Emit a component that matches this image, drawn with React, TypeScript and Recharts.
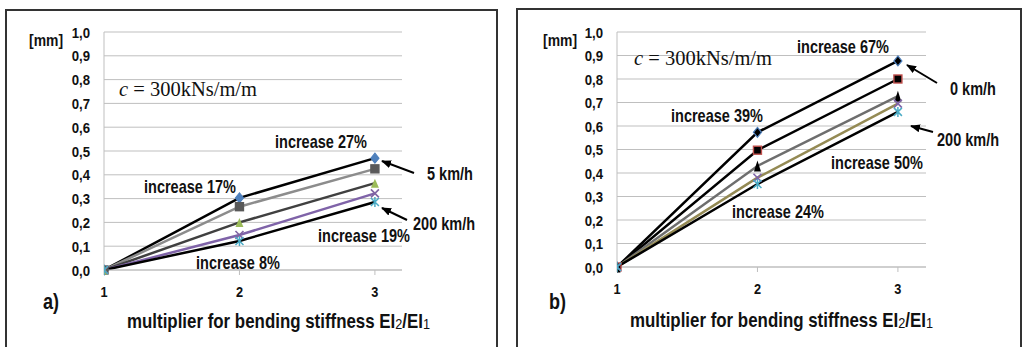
import React from "react";
import { LineChart, Line, XAxis, YAxis, CartesianGrid } from "recharts";

// ---------- data ----------
const multipliers = [1, 2, 3];
const xTicks = [1, 2, 3];
const yTicks = [0, 0.1, 0.2, 0.3, 0.4, 0.5, 0.6, 0.7, 0.8, 0.9, 1.0];

// panel a) (speeds 5 km/h ... 200 km/h)
const aSpeed5 = [0, 0.303, 0.47];
const aSeries2 = [0, 0.266, 0.425];
const aSeries3 = [0, 0.2, 0.365];
const aSeries4 = [0, 0.147, 0.322];
const aSpeed200 = [0, 0.122, 0.286];

// panel b) (speeds 0 km/h ... 200 km/h)
const bSpeed0 = [0, 0.573, 0.877];
const bSeries2 = [0, 0.497, 0.8];
const bSeries3 = [0, 0.43, 0.727];
const bSeries4 = [0, 0.38, 0.695];
const bSpeed200 = [0, 0.353, 0.66];

const FONT = "'Liberation Sans', Arial, sans-serif";
const NARROW = 0.82;
const SERIF = "'Liberation Serif', 'Times New Roman', serif";
const GRID = "#BFBFBF";

type Marker = (p: any) => React.ReactElement;

const diamond = (fill: string, stroke: string): Marker => (p: any) => (
  <path
    key={`d${p.index}`}
    d={`M${p.cx},${p.cy - 5} L${p.cx + 4},${p.cy} L${p.cx},${p.cy + 5} L${p.cx - 4},${p.cy} Z`}
    fill={fill}
    stroke={stroke}
    strokeWidth={1.2}
  />
);
const square = (fill: string, stroke: string): Marker => (p: any) => (
  <rect key={`s${p.index}`} x={p.cx - 4} y={p.cy - 4} width={8} height={8} fill={fill} stroke={stroke} strokeWidth={1.4} />
);
const triangle = (fill: string, w: number, h: number): Marker => (p: any) => (
  <path
    key={`t${p.index}`}
    d={`M${p.cx},${p.cy - h / 2} L${p.cx + w / 2},${p.cy + h / 2} L${p.cx - w / 2},${p.cy + h / 2} Z`}
    fill={fill}
  />
);
const cross = (stroke: string): Marker => (p: any) => (
  <path
    key={`x${p.index}`}
    d={`M${p.cx - 4},${p.cy - 4} L${p.cx + 4},${p.cy + 4} M${p.cx - 4},${p.cy + 4} L${p.cx + 4},${p.cy - 4}`}
    stroke={stroke}
    strokeWidth={1.6}
    fill="none"
  />
);
const star = (stroke: string): Marker => (p: any) => (
  <path
    key={`a${p.index}`}
    d={`M${p.cx - 4},${p.cy - 4} L${p.cx + 4},${p.cy + 4} M${p.cx - 4},${p.cy + 4} L${p.cx + 4},${p.cy - 4} M${p.cx},${p.cy - 5} L${p.cx},${p.cy + 5}`}
    stroke={stroke}
    strokeWidth={1.5}
    fill="none"
  />
);

type SeriesCfg = { name: string; values: number[]; color: string; width: number; dot: Marker };

const seriesA: SeriesCfg[] = [
  { name: "5 km/h", values: aSpeed5, color: "#000000", width: 2.5, dot: diamond("#4F81BD", "#4F81BD") },
  { name: "series 2", values: aSeries2, color: "#8C8C8C", width: 2.5, dot: square("#595959", "#595959") },
  { name: "series 3", values: aSeries3, color: "#404040", width: 2.5, dot: triangle("#9BBB59", 8, 9) },
  { name: "series 4", values: aSeries4, color: "#7F63A8", width: 2.5, dot: cross("#8064A2") },
  { name: "200 km/h", values: aSpeed200, color: "#000000", width: 2.5, dot: star("#4BACC6") },
];

const seriesB: SeriesCfg[] = [
  { name: "0 km/h", values: bSpeed0, color: "#000000", width: 2.5, dot: diamond("#000000", "#4F81BD") },
  { name: "series 2", values: bSeries2, color: "#000000", width: 2.5, dot: square("#000000", "#C0504D") },
  { name: "series 3", values: bSeries3, color: "#6E6E6E", width: 2.5, dot: triangle("#000000", 7, 11) },
  { name: "series 4", values: bSeries4, color: "#948A54", width: 2.5, dot: cross("#7F63A8") },
  { name: "200 km/h", values: bSpeed200, color: "#000000", width: 2.5, dot: star("#4BACC6") },
];

const buildRows = (series: SeriesCfg[]) =>
  multipliers.map((x, i) => {
    const row: Record<string, number> = { x };
    series.forEach((s, k) => {
      row[`s${k}`] = s.values[i];
    });
    return row;
  });

const fmt = (v: number) => v.toFixed(1).replace(".", ",");

const YTick = (p: any) => (
  <text
    transform={`translate(${p.x},${p.y}) scale(0.85,1)`}
    textAnchor="end"
    dy="0.36em"
    fontFamily={FONT}
    fontWeight={700}
    fontSize={15.5}
    fill="#111"
  >
    {fmt(p.payload.value)}
  </text>
);

const XTick = (p: any) => (
  <text
    transform={`translate(${p.x},${p.y}) scale(0.85,1)`}
    textAnchor="middle"
    dy="0.72em"
    fontFamily={FONT}
    fontWeight={700}
    fontSize={15}
    fill="#111"
  >
    {p.payload.value}
  </text>
);

function Panel(props: {
  series: SeriesCfg[];
  left: number;
  width: number;
  yAxisWidth: number;
  marginRight: number;
  bottomMargin: number;
}) {
  const { series, left, width, yAxisWidth, marginRight, bottomMargin } = props;
  return (
    <div style={{ position: "absolute", left, top: 0 }}>
      <LineChart
        width={width}
        height={347}
        data={buildRows(series)}
        margin={{ top: 32, right: marginRight, left: 0, bottom: bottomMargin }}
      >
        <CartesianGrid vertical={false} stroke={GRID} strokeWidth={1} />
        <XAxis
          dataKey="x"
          type="number"
          domain={[1, 3.2]}
          ticks={xTicks}
          allowDataOverflow
          height={30}
          stroke={GRID}
          tickSize={5}
          tickMargin={11}
          tick={XTick}
        />
        <YAxis
          type="number"
          domain={[0, 1]}
          ticks={yTicks}
          width={yAxisWidth}
          stroke={GRID}
          tickLine={false}
          tickSize={0}
          tickMargin={14}
          tick={YTick}
        />
        {series.map((s, k) => (
          <Line
            key={s.name + k}
            name={s.name}
            dataKey={`s${k}`}
            type="linear"
            stroke={s.color}
            strokeWidth={s.width}
            dot={s.dot}
            activeDot={false}
            isAnimationActive={false}
          />
        ))}
      </LineChart>
    </div>
  );
}

const Arrow = ({ x1, y1, x2, y2 }: { x1: number; y1: number; x2: number; y2: number }) => (
  <line x1={x1} y1={y1} x2={x2} y2={y2} stroke="#000" strokeWidth={2} markerEnd="url(#arrowHead)" />
);

const T = (p: { x: number; y: number; children: React.ReactNode; size?: number }) => (
  <text
    transform={`translate(${p.x},${p.y}) scale(${NARROW},1)`}
    fontFamily={FONT}
    fontWeight={700}
    fontSize={p.size ?? 17.7}
    fill="#111"
  >
    {p.children}
  </text>
);

const Title = ({ x, y }: { x: number; y: number }) => (
  <text
    transform={`translate(${x},${y}) scale(${NARROW},1)`}
    fontFamily={FONT}
    fontWeight={700}
    fontSize={20.6}
    fill="#111"
  >
    multiplier for bending stiffness EI
    <tspan fontSize={15.5} fontWeight={400} dy={1}>2</tspan>
    <tspan dy={-1}>/EI</tspan>
    <tspan fontSize={15.5} fontWeight={400} dy={1}>1</tspan>
  </text>
);

const CLabel = ({ x, y }: { x: number; y: number }) => (
  <text x={x} y={y} fontFamily={SERIF} fontSize={20.5} fill="#111">
    <tspan fontStyle="italic">c</tspan>
    <tspan> = 300kNs/m/m</tspan>
  </text>
);

export default function App() {
  return (
    <div
      style={{
        position: "absolute",
        left: 0,
        top: 0,
        width: 1022,
        height: 347,
        background: "#fff",
        overflow: "hidden",
      }}
    >
      <Panel series={seriesA} left={0} width={510} yAxisWidth={104} marginRight={108} bottomMargin={47} />
      <Panel series={seriesB} left={510} width={512} yAxisWidth={107} marginRight={96} bottomMargin={50} />
      <svg
        width={1022}
        height={347}
        style={{ position: "absolute", left: 0, top: 0, pointerEvents: "none" }}
      >
        <defs>
          <marker id="arrowHead" markerWidth="10" markerHeight="8" refX="9" refY="4" orient="auto" markerUnits="userSpaceOnUse">
            <path d="M0,0 L10,4 L0,8 Z" fill="#000" />
          </marker>
        </defs>
        {/* panel borders */}
        <path d="M6,352 L6,10 L497,10 L497,352" fill="none" stroke="#333" strokeWidth={2} />
        <path d="M517,352 L517,9 L1021,9 L1021,352" fill="none" stroke="#333" strokeWidth={2} />

        {/* panel a */}
        <T x={29} y={46} size={17}>[mm]</T>
        <CLabel x={119} y={96} />
        <T x={275} y={148}>increase 27%</T>
        <T x={144} y={193}>increase 17%</T>
        <T x={318} y={242}>increase 19%</T>
        <T x={196} y={269}>increase 8%</T>
        <T x={427} y={180}>5 km/h</T>
        <T x={413} y={230}>200 km/h</T>
        <Arrow x1={414} y1={173} x2={382} y2={161} />
        <Arrow x1={407} y1={220} x2={382} y2={208} />
        <T x={43} y={309} size={22}>a)</T>
        <Title x={127} y={328} />

        {/* panel b */}
        <T x={543} y={46} size={17}>[mm]</T>
        <CLabel x={634} y={65} />
        <T x={797} y={53}>increase 67%</T>
        <T x={671} y={122}>increase 39%</T>
        <T x={831} y={169}>increase 50%</T>
        <T x={732} y={218}>increase 24%</T>
        <T x={950} y={95}>0 km/h</T>
        <T x={937} y={146}>200 km/h</T>
        <Arrow x1={937} y1={83} x2={907} y2={65} />
        <Arrow x1={933} y1={132} x2={911} y2={126} />
        <T x={549} y={309} size={22}>b)</T>
        <Title x={630} y={327} />
      </svg>
    </div>
  );
}
